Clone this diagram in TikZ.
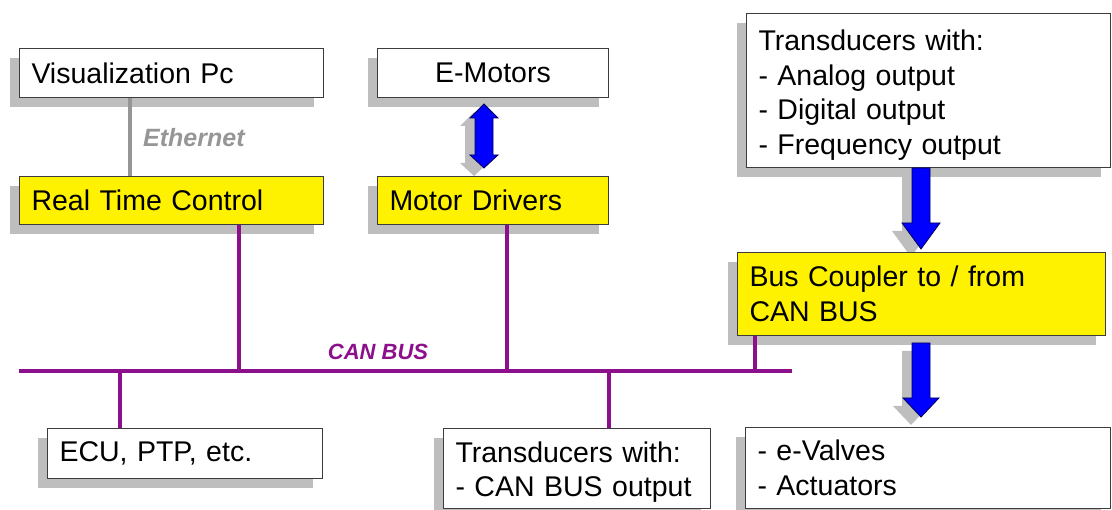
\documentclass[tikz,border=0pt]{standalone}
\usepackage{fontspec}
\setmainfont{Liberation Sans}
\usetikzlibrary{shadows,calc}
\definecolor{canpurple}{RGB}{140,16,140}
\definecolor{shadowgray}{RGB}{190,190,190}
\definecolor{boxline}{RGB}{60,60,60}
\definecolor{ethgray}{RGB}{150,150,150}
\definecolor{arrowblue}{RGB}{0,0,255}
\definecolor{arrowline}{RGB}{0,0,90}
\newcommand\boxfnt{\fontsize{28.5}{34.5}\selectfont}
\begin{document}
\begin{tikzpicture}[x=1pt,y=-1pt,
  box/.style={draw=boxline, line width=1pt, fill=white, anchor=north west,
    inner xsep=12pt, inner ysep=0pt, align=left, font=\boxfnt,
    general shadow={fill=shadowgray, draw=none, shadow xshift=-10pt, shadow yshift=-10pt}},
  ybox/.style={box, fill=yellow},
  canline/.style={draw=canpurple, line width=4pt},
  ethline/.style={draw=ethgray, line width=3.5pt},
  blockarrow/.style={fill=arrowblue, draw=arrowline, line width=0.8pt, line join=miter},
  arrowshadow/.style={fill=shadowgray, draw=none}
]
\useasboundingbox (0,0) rectangle (1112,510);

% shadows of block arrows
\begin{scope}[shift={(-10,8)}]
\fill[arrowshadow] (484,104)--(498,118)--(493,118)--(493,155)--(498,155)--(484,168)--(470,155)--(475,155)--(475,118)--(470,118)--cycle;
\fill[arrowshadow] (912,168)--(930,168)--(930,223)--(940,223)--(921,249)--(902,223)--(912,223)--cycle;
\fill[arrowshadow] (912,343)--(930,343)--(930,398)--(939,398)--(921,417)--(903,398)--(912,398)--cycle;
\end{scope}

% boxes
\node[box, text width=280pt, minimum height=49pt] (vis) at (19,48) {Visualization Pc};
\node[ybox, text width=280pt, minimum height=48pt] (rtc) at (19,176) {Real Time Control};
\node[box, text width=207pt, minimum height=49pt, align=center] (emot) at (377,48) {E-Motors};
\node[ybox, text width=207pt, minimum height=48pt] (mdrv) at (377,176) {Motor Drivers};
\node[box, text width=340pt, minimum height=154pt] (trtop) at (746,13) {\rule{0pt}{30pt}Transducers with:\\- Analog output\\- Digital output\\- Frequency output};
\node[ybox, text width=344pt, minimum height=83pt] (bcoup) at (737,252) {Bus Coupler to / from\\CAN BUS};
\node[box, text width=251pt, minimum height=50pt] (ecu) at (47,428) {ECU, PTP, etc.};
\node[box, text width=243pt, minimum height=80pt] (tcan) at (443,428) {\rule{0pt}{28pt}Transducers with:\\- CAN BUS output};
\node[box, text width=341pt, minimum height=81pt] (valv) at (745,427) {- e-Valves\\- Actuators};

% block arrows
\draw[blockarrow] (484,104)--(498,118)--(493,118)--(493,155)--(498,155)--(484,168)--(470,155)--(475,155)--(475,118)--(470,118)--cycle;
\draw[blockarrow] (912,168)--(930,168)--(930,223)--(940,223)--(921,249)--(902,223)--(912,223)--cycle;
\draw[blockarrow] (912,343)--(930,343)--(930,398)--(939,398)--(921,417)--(903,398)--(912,398)--cycle;

% ethernet
\coordinate (ethtop) at ([xshift=111pt]vis.south west);
\draw[ethline] (ethtop) -- (ethtop |- rtc.north);
\node[anchor=west, font=\fontsize{25}{29}\selectfont\bfseries\itshape, text=ethgray, inner sep=0pt] (ethlbl) at (143,138) {Ethernet};

% CAN bus
\coordinate (busL) at (19,371);
\coordinate (busR) at (792,371);
\draw[canline] (busL) -- (busR);
\node[font=\fontsize{22}{26}\selectfont\bfseries\itshape, text=canpurple, inner sep=0pt] (canlbl) at (378,352) {CAN BUS};
\coordinate (rtcd) at ([xshift=220pt]rtc.south west);
\coordinate (mdrvd) at ([xshift=130pt]mdrv.south west);
\coordinate (bcoupd) at ([xshift=18pt]bcoup.south west);
\coordinate (ecud) at ([xshift=73pt]ecu.north west);
\coordinate (tcand) at ([xshift=166pt]tcan.north west);
\draw[canline] (rtcd) -- (rtcd |- busL);
\draw[canline] (mdrvd) -- (mdrvd |- busL);
\draw[canline] (bcoupd) -- (bcoupd |- busL);
\draw[canline] (ecud) -- (ecud |- busL);
\draw[canline] (tcand) -- (tcand |- busL);
\end{tikzpicture}
\end{document}
